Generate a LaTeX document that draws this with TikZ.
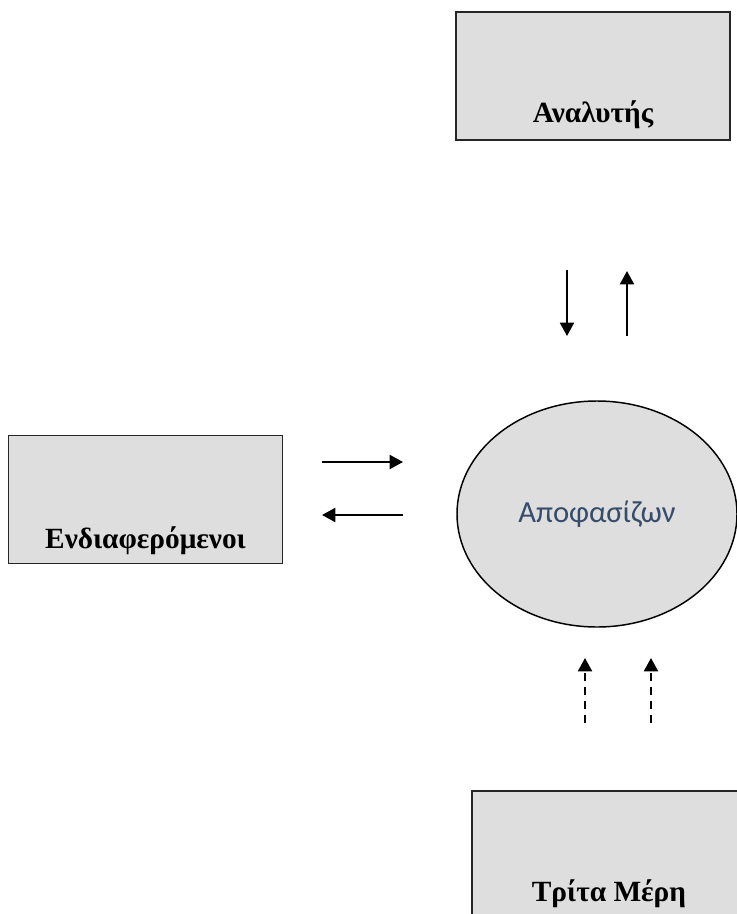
\documentclass[tikz,border=0pt]{standalone}
\usepackage{fontspec}
\setmainfont{Liberation Serif}
\newfontfamily\calibri{Carlito}
\usetikzlibrary{arrows.meta,shapes.geometric}
\definecolor{boxgray}{RGB}{222,222,222}
\definecolor{deciderblue}{RGB}{55,76,106}
\begin{document}
\begin{tikzpicture}[
			x=0.75pt,y=-0.75pt,
			box/.style={rectangle,draw=black!85,fill=boxgray,line width=1.3pt,minimum width=205.5pt,minimum height=96pt,inner sep=0pt},
			boxtext/.style={anchor=base,font=\fontsize{22}{26}\selectfont\bfseries},
			flow/.style={line width=1.5pt,-{Triangle[length=10pt,width=10.5pt]}},
			flowdash/.style={flow,dash pattern=on 6pt off 4.5pt}
		]
		\clip (0,0) rectangle (737,914);
		\node[box,label={[boxtext,yshift=13.5pt,name=analyst text]south:Αναλυτής}] (analyst) at (593,76) {};
		\node[box,label={[boxtext,yshift=12pt,name=stake text]south:Ενδιαφερόμενοι}] (stake) at (145.5,499.5) {};
		\node[box,label={[boxtext,yshift=14pt,name=third text]south:Τρίτα Μέρη}] (third) at (609,855) {};
		\node[ellipse,draw=black,fill=boxgray,line width=1.1pt,minimum width=210pt,minimum height=169.5pt,inner sep=0pt,
			font=\calibri\fontsize{23}{26}\selectfont,text=deciderblue] (decider) at (597,514) {Αποφασίζων};
		\coordinate (down top) at (567,270);
		\coordinate (down end) at (567,336);
		\coordinate (up top) at (627,271);
		\coordinate (up end) at (627,336);
		\coordinate (right start) at (322,462);
		\coordinate (right end) at (403,462);
		\coordinate (left start) at (403,515);
		\coordinate (left end) at (322,515);
		\coordinate (dash one top) at (585,658);
		\coordinate (dash one end) at (585,723);
		\coordinate (dash two top) at (651,658);
		\coordinate (dash two end) at (651,723);
		\draw[flow] (down top) -- (down end);
		\draw[flow] (up end) -- (up top);
		\draw[flow] (right start) -- (right end);
		\draw[flow] (left start) -- (left end);
		\draw[flowdash] (dash one end) -- (dash one top);
		\draw[flowdash] (dash two end) -- (dash two top);
	\end{tikzpicture}
\end{document}
